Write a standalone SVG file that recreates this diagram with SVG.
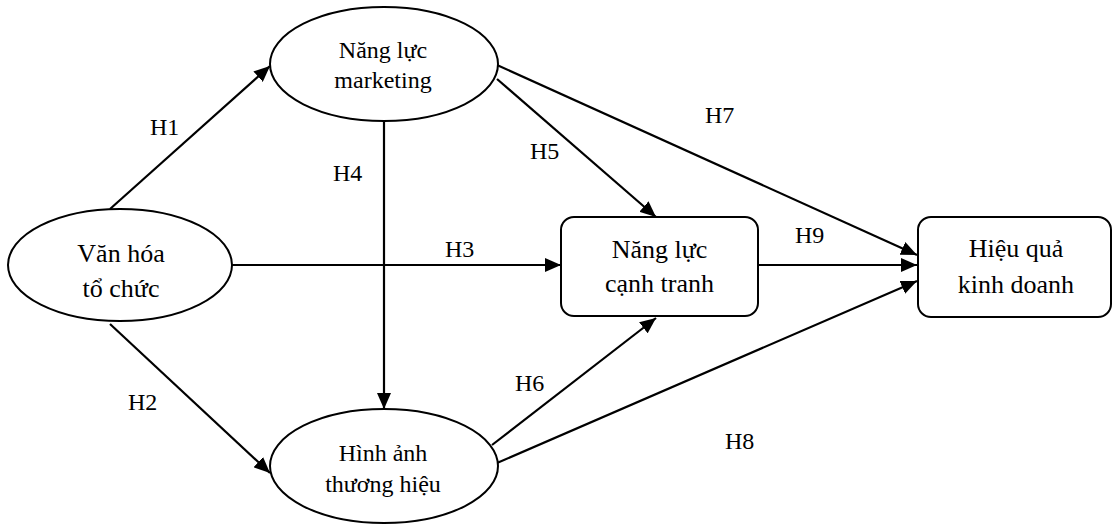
<svg xmlns="http://www.w3.org/2000/svg" width="1114" height="524" viewBox="0 0 1114 524">
<style>
.shape{fill:#fff;stroke:#000;stroke-width:2}
.lbl{font-family:"Liberation Serif","Times New Roman",serif;font-size:24px;fill:#000}
.nt{font-family:"Liberation Serif","Times New Roman",serif;fill:#000;text-anchor:middle}
.edge{stroke:#000;stroke-width:2.2;fill:none;marker-end:url(#ah)}
</style>
<defs>
<marker id="ah" markerUnits="userSpaceOnUse" markerWidth="16" markerHeight="14" viewBox="0 0 16 14" refX="16" refY="7" orient="auto">
<path d="M0,0 L16,7 L0,14 Z" fill="#000"/>
</marker>
</defs>
<rect width="1114" height="524" fill="#fff"/>
<g id="connectors">
<line class="edge" x1="110" y1="209" x2="270" y2="66"/>
<line class="edge" x1="110" y1="324" x2="270" y2="473"/>
<line class="edge" x1="232" y1="265" x2="561" y2="265"/>
<line class="edge" x1="384" y1="121" x2="384" y2="409"/>
<line class="edge" x1="497" y1="79" x2="656" y2="217"/>
<line class="edge" x1="492" y1="445" x2="656" y2="318"/>
<line class="edge" x1="497" y1="65" x2="917" y2="255"/>
<line class="edge" x1="497" y1="463" x2="917" y2="281"/>
<line class="edge" x1="758" y1="265" x2="917" y2="265"/>
<text class="lbl" x="150" y="135">H1</text>
<text class="lbl" x="128" y="410">H2</text>
<text class="lbl" x="445" y="257">H3</text>
<text class="lbl" x="333" y="181">H4</text>
<text class="lbl" x="530" y="159">H5</text>
<text class="lbl" x="515" y="391">H6</text>
<text class="lbl" x="705" y="123">H7</text>
<text class="lbl" x="725" y="449">H8</text>
<text class="lbl" x="795" y="243">H9</text>
</g>
<g id="van-hoa">
<ellipse class="shape" cx="120" cy="265" rx="112" ry="56"/>
<text class="nt" font-size="26" x="121" y="262">Văn hóa</text>
<text class="nt" font-size="26" x="121" y="297">tổ chức</text>
</g>
<g id="marketing">
<ellipse class="shape" cx="384" cy="64" rx="114" ry="57"/>
<text class="nt" font-size="24" x="383" y="58">Năng lực</text>
<text class="nt" font-size="24" x="383" y="88">marketing</text>
</g>
<g id="hinh-anh">
<ellipse class="shape" cx="384" cy="466" rx="114" ry="57"/>
<text class="nt" font-size="24" x="383" y="461">Hình ảnh</text>
<text class="nt" font-size="24" x="383" y="492">thương hiệu</text>
</g>
<g id="canh-tranh">
<rect class="shape" x="561" y="217" width="197" height="99" rx="13"/>
<text class="nt" font-size="26" x="659.5" y="258">Năng lực</text>
<text class="nt" font-size="26" x="659.5" y="292">cạnh tranh</text>
</g>
<g id="hieu-qua">
<rect class="shape" x="918" y="217" width="193" height="100" rx="13"/>
<text class="nt" font-size="26" x="1016" y="257">Hiệu quả</text>
<text class="nt" font-size="26" x="1016" y="293">kinh doanh</text>
</g>
</svg>
